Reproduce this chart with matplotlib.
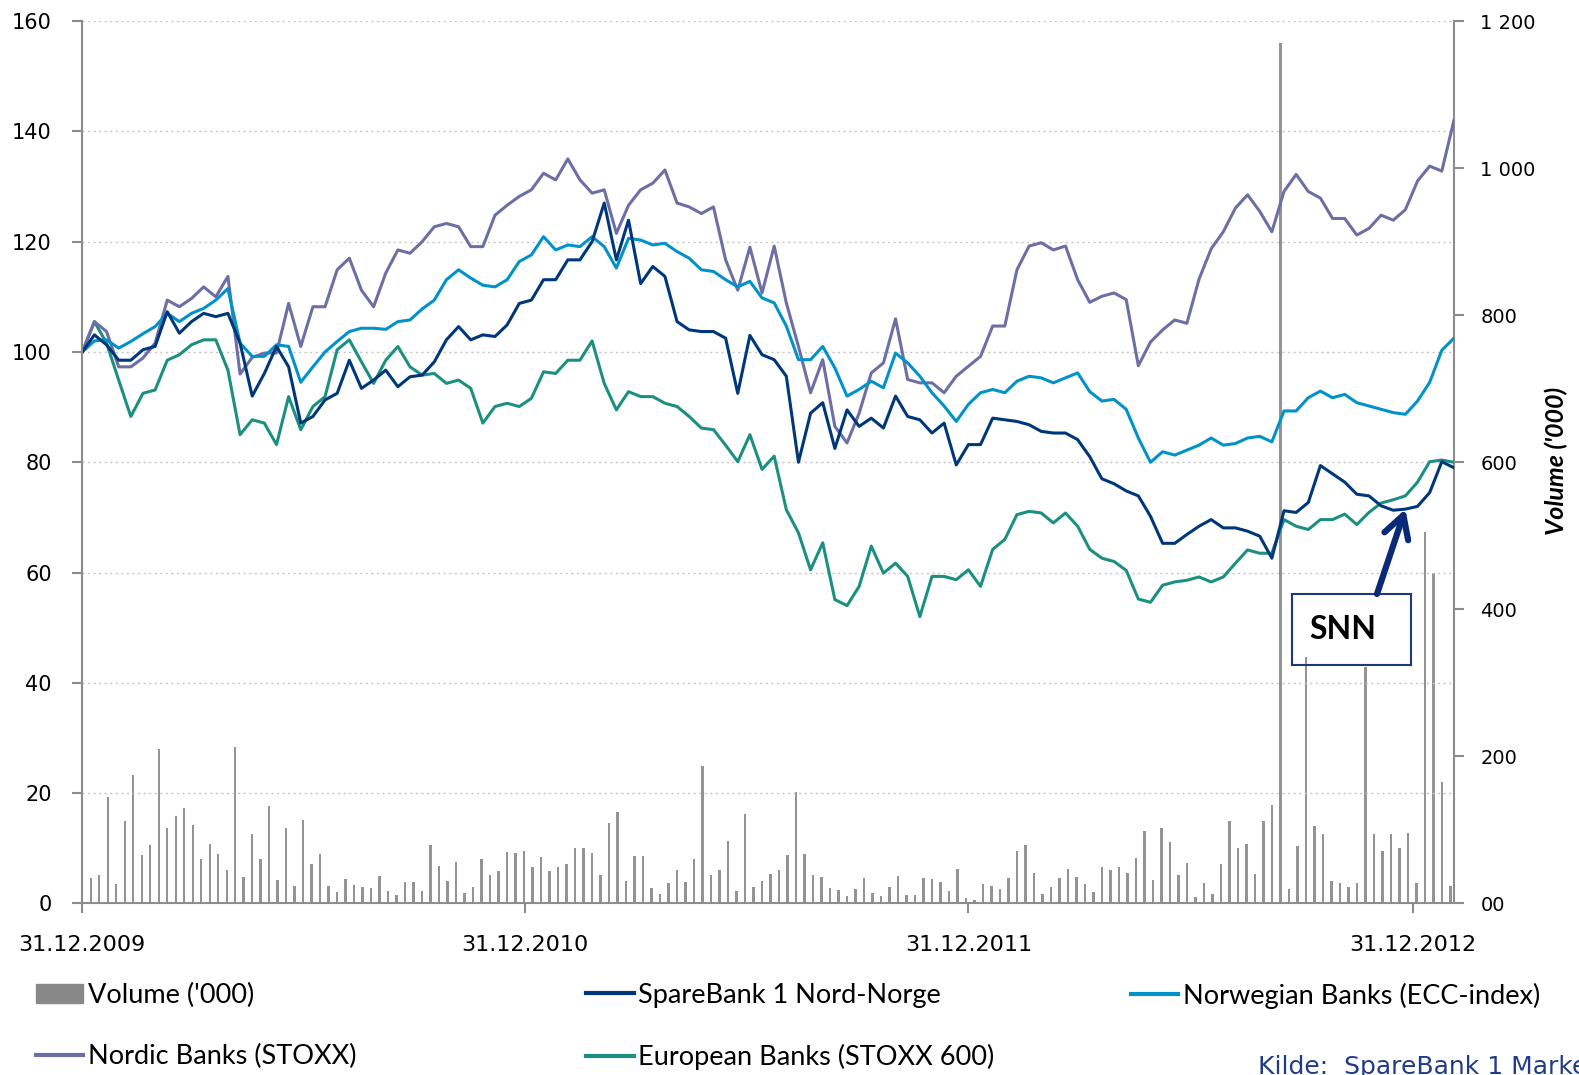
"""
Share price index chart: SpareBank 1 Nord-Norge vs bank indices, with volume.
"""

import matplotlib.pyplot as plt
import matplotlib.patches as mpatches
from matplotlib.lines import Line2D
import pandas as pd

# Index values (31.12.2009 = 100), read every 10 days
snn = [100, 103.1, 101.3, 98.5, 98.5, 100.4, 101, 107.3, 103.4, 105.5,
       107, 106.4, 107, 101.6, 92, 96.1, 101, 97.3, 87.1, 88.3,
       91.3, 92.5, 98.5, 93.4, 94.9, 96.7, 93.7, 95.5, 95.8, 98.2,
       102.2, 104.6, 102.2, 103.1, 102.8, 104.9, 108.8, 109.4, 113.1, 113.1,
       116.7, 116.7, 120, 127, 116.7, 123.9, 112.4, 115.5, 113.7, 105.5,
       104, 103.7, 103.7, 102.5, 92.5, 103, 99.5, 98.6, 95.6, 80,
       88.9, 90.8, 82.5, 89.5, 86.5, 88, 86.2, 92, 88.3, 87.7,
       85.3, 87.1, 79.5, 83.2, 83.2, 88, 87.7, 87.4, 86.8, 85.6,
       85.3, 85.3, 84.1, 81, 77, 76.1, 74.8, 73.9, 70.2, 65.3,
       65.3, 66.9, 68.4, 69.6, 68.1, 68.1, 67.5, 66.6, 62.6, 71.2,
       70.9, 72.7, 79.4, 77.9, 76.4, 74.2, 73.9, 72.1, 71.3, 71.5,
       72, 74.5, 80.1, 79]

norwegian = [100, 102, 102.2, 100.7, 101.9, 103.3, 104.6, 107, 105.5, 107,
             107.9, 109.4, 111.5, 101.6, 99.2, 99.2, 101.3, 101, 94.5, 97.3,
             100, 101.9, 103.7, 104.3, 104.3, 104.1, 105.5, 105.8, 107.8, 109.4,
             113.1, 114.9, 113.4, 112.1, 111.8, 113.1, 116.4, 117.6, 120.9, 118.5,
             119.4, 119.1, 120.9, 119.1, 115.2, 120.6, 120.3, 119.4, 119.7, 118.2,
             117, 114.9, 114.6, 113.1, 111.8, 112.8, 109.8, 108.9, 104.7, 98.6,
             98.6, 101, 97.1, 92, 93.2, 94.7, 93.5, 99.8, 98, 95.6,
             92.6, 90.2, 87.4, 90.5, 92.6, 93.2, 92.6, 94.7, 95.6, 95.3,
             94.4, 95.3, 96.2, 92.8, 91.1, 91.4, 89.6, 84.4, 80, 81.9,
             81.3, 82.2, 83.1, 84.4, 83.1, 83.4, 84.4, 84.7, 83.7, 89.3,
             89.3, 91.7, 92.9, 91.7, 92.3, 90.8, 90.2, 89.6, 89, 88.7,
             91.1, 94.5, 100.3, 102.5]

nordic = [100, 105.5, 103.7, 97.3, 97.3, 98.9, 101.6, 109.4, 108.2, 109.7,
          111.8, 110, 113.7, 96, 99, 99.8, 99.8, 108.8, 101, 108.2,
          108.2, 114.9, 117, 111.2, 108.2, 114.3, 118.5, 117.9, 120, 122.7,
          123.3, 122.7, 119.1, 119.1, 124.8, 126.6, 128.2, 129.4, 132.4, 131.2,
          135, 131.2, 128.8, 129.4, 121.5, 126.6, 129.4, 130.6, 133, 127,
          126.3, 125.1, 126.3, 116.7, 111.2, 119, 110.7, 119.2, 108.9, 101,
          92.6, 98.6, 86.5, 83.5, 88.9, 96.2, 98, 106, 95, 94.4,
          94.4, 92.6, 95.6, 97.4, 99.2, 104.7, 104.7, 114.9, 119.2, 119.8,
          118.5, 119.2, 113.1, 109, 110.1, 110.7, 109.5, 97.5, 101.8, 104,
          105.8, 105.2, 113.2, 118.7, 121.8, 126.1, 128.5, 125.5, 121.8, 129.1,
          132.2, 129.1, 127.9, 124.2, 124.2, 121.2, 122.4, 124.8, 123.9, 125.8,
          131, 133.7, 132.8, 142]

european = [100, 105.5, 101.6, 94.9, 88.3, 92.5, 93.1, 98.5, 99.5, 101.3,
            102.2, 102.2, 96.7, 85, 87.7, 87.1, 83.2, 91.9, 85.9, 90.1,
            91.9, 100.4, 102.2, 98.2, 94.3, 98.5, 101, 97.3, 95.8, 96.1,
            94.3, 94.9, 93.4, 87.1, 90.1, 90.7, 90.1, 91.6, 96.4, 96.1,
            98.5, 98.5, 102, 94.3, 89.5, 92.8, 91.9, 91.9, 90.7, 90.1,
            88.3, 86.2, 85.9, 83.1, 80.1, 85, 78.7, 81.1, 71.4, 67.2,
            60.5, 65.4, 55.1, 54, 57.5, 64.8, 59.9, 61.7, 59.3, 52,
            59.3, 59.3, 58.7, 60.5, 57.5, 64.2, 66, 70.5, 71.1, 70.8,
            69, 70.8, 68.4, 64.2, 62.6, 62, 60.4, 55.2, 54.6, 57.7,
            58.3, 58.6, 59.2, 58.3, 59.2, 61.7, 64.1, 63.5, 63.5, 69.6,
            68.4, 67.8, 69.6, 69.6, 70.6, 68.7, 70.9, 72.6, 73.2, 73.9,
            76.4, 80.1, 80.4, 80]

# Weekly volume ('000), peak day of each week
volume = [3, 35, 39, 145, 27, 112, 175, 66, 80, 210,
          102, 119, 130, 107, 60, 81, 67, 46, 213, 36,
          95, 60, 133, 32, 103, 24, 114, 53, 67, 24,
          15, 33, 25, 22, 21, 37, 17, 11, 29, 29,
          17, 79, 51, 31, 57, 14, 23, 61, 39, 44,
          70, 68, 71, 49, 63, 44, 50, 54, 75, 75,
          68, 39, 110, 124, 31, 64, 64, 21, 13, 28,
          45, 29, 61, 187, 39, 45, 85, 17, 122, 22,
          30, 40, 45, 66, 151, 67, 38, 36, 21, 18,
          10, 20, 35, 14, 10, 22, 37, 12, 11, 34,
          33, 29, 17, 47, 7, 5, 26, 24, 20, 34,
          71, 80, 42, 13, 23, 35, 47, 36, 27, 16,
          49, 45, 50, 41, 62, 99, 32, 102, 84, 39,
          55, 9, 28, 13, 54, 112, 76, 81, 40, 112,
          134, 1170, 20, 78, 335, 105, 94, 30, 28, 22,
          28, 322, 95, 71, 95, 75, 96, 28, 505, 450,
          165, 24]

dates = pd.date_range("2009-12-31", periods=len(snn), freq="10D")
vol_dates = pd.date_range("2009-12-31", periods=len(volume), freq="7D")

year_ticks = pd.to_datetime(["2009-12-31", "2010-12-31", "2011-12-31", "2012-12-31"])
year_labels = ["31.12.2009", "31.12.2010", "31.12.2011", "31.12.2012"]
left_ticks = list(range(0, 161, 20))
right_ticks = list(range(0, 1201, 200))
right_labels = ["00", "200", "400", "600", "800", "1 000", "1 200"]

c_snn = "#00377a"
c_nor = "#0092c9"
c_nordic = "#6d6ea6"
c_eur = "#1b9080"
c_vol = "#939393"
c_axis = "#8c8c8c"

narrow = ["Liberation Sans Narrow", "Lato", "DejaVu Sans"]

fig = plt.figure(figsize=(15.79, 10.75), dpi=100)
ax = fig.add_axes([0.0521, 0.1596, 0.8687, 0.8208])
ax2 = ax.twinx()

# Volume bars on the right axis, drawn underneath the lines
ax2.bar(vol_dates, volume, width=2.0, color=c_vol, linewidth=0)
ax2.set_ylim(0, 1200)
ax2.set_yticks(right_ticks)
ax2.set_yticklabels(right_labels)
ax.set_zorder(ax2.get_zorder() + 1)
ax.patch.set_visible(False)

# Index lines
lw = 2.2
ax.plot(dates, european, color=c_eur, lw=lw)
ax.plot(dates, nordic, color=c_nordic, lw=lw)
ax.plot(dates, norwegian, color=c_nor, lw=lw)
ax.plot(dates, snn, color=c_snn, lw=lw)

ax.set_ylim(0, 160)
ax.set_yticks(left_ticks)
ax.set_xlim(dates[0], dates[-1])
ax.set_xticks(year_ticks)
ax.set_xticklabels(year_labels)
ax.grid(axis="y", color="#c4c4c4", linestyle=(0, (1.5, 2.5)), lw=1)

for a in (ax, ax2):
    a.spines["top"].set_visible(False)
    for s in ("left", "right", "bottom"):
        a.spines[s].set_color(c_axis)
        a.spines[s].set_linewidth(1.5)
ax.spines["right"].set_visible(False)
ax2.spines["left"].set_visible(False)
ax2.spines["bottom"].set_visible(False)

ax.tick_params(axis="y", direction="out", length=7, width=1.5, color=c_axis,
               labelsize=15, pad=15)
ax.tick_params(axis="x", direction="out", length=7, width=1.5, color=c_axis,
               labelsize=16, pad=16)
ax2.tick_params(axis="y", direction="out", length=7, width=1.5, color=c_axis,
                labelsize=14, pad=12)

# SNN callout
ax.add_patch(mpatches.Rectangle((0.882, 0.2702), 0.0867, 0.0805, transform=ax.transAxes,
                                fill=False, edgecolor="#1b3a7a", lw=1.5, zorder=5))
ax.text(0.919, 0.3105, "SNN", transform=ax.transAxes, ha="center", va="center",
        fontsize=23, fontweight="bold", family=["Lato", "DejaVu Sans"], zorder=6)
ax.annotate("", xy=(dates[109], snn[109]), xytext=(0.9439, 0.3507),
            textcoords="axes fraction",
            arrowprops=dict(arrowstyle="->,head_length=0.8,head_width=0.45",
                            mutation_scale=20, lw=4.5, color="#0a2a78",
                            shrinkA=0, shrinkB=0), zorder=6)

# Right axis title
fig.text(0.9854, 0.571, "Volume ('000)", rotation=90, ha="center", va="center",
         fontsize=18, fontweight="bold", fontstyle="italic", family=narrow)

# Legend in three columns
vol_h = mpatches.Patch(color="#888888")
h_snn = Line2D([], [], color=c_snn, lw=3)
h_nor = Line2D([], [], color=c_nor, lw=3)
h_nordic = Line2D([], [], color=c_nordic, lw=3)
h_eur = Line2D([], [], color=c_eur, lw=3)
legend_cols = [
    (0.0228, [vol_h, h_nordic], ["Volume ('000)", "Nordic Banks (STOXX)"]),
    (0.3713, [h_snn, h_eur], ["SpareBank 1 Nord-Norge", "European Banks (STOXX 600)"]),
    (0.7163, [h_nor], ["Norwegian Banks (ECC-index)"]),
]
for x0, handles, labels in legend_cols:
    fig.legend(handles, labels, loc="upper left", bbox_to_anchor=(x0, 0.086),
               frameon=False, borderpad=0, borderaxespad=0, handlelength=1.75,
               handletextpad=0.17, labelspacing=1.35,
               prop={"family": narrow, "size": 19.5})

fig.text(0.797, 0.0185, "Kilde:  SpareBank 1 Markets", color="#1f3c88",
         fontsize=18, ha="left", va="top")

plt.savefig("out.png", dpi=100)
